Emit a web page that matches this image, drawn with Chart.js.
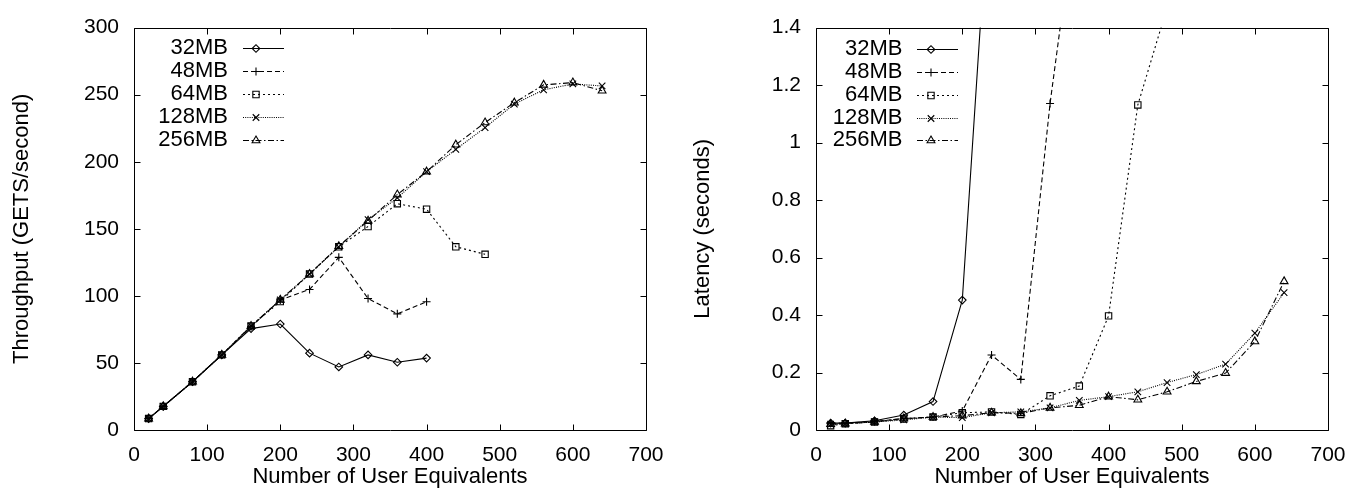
<!DOCTYPE html>
<html><head><meta charset="utf-8">
<script src="https://cdn.jsdelivr.net/npm/chart.js@4.4.0/dist/chart.umd.min.js"></script>
<style>
html,body{margin:0;padding:0;background:#fff;overflow:hidden}
#wrap{position:relative;width:1363px;height:493px;background:#fff}
#c1{position:absolute;left:0;top:0;width:681px;height:493px}
#c2{position:absolute;left:681px;top:0;width:682px;height:493px}
</style></head>
<body><div id="wrap"><canvas id="c1" width="681" height="493"></canvas><canvas id="c2" width="682" height="493"></canvas></div>
<script>
// ---- data ----
const users = [20, 40, 80, 120, 160, 200, 240, 280, 320, 360, 400, 440, 480, 520, 560, 600, 640];
const seriesNames = ['32MB', '48MB', '64MB', '128MB', '256MB'];

const thr32  = [8.5, 17.6, 36, 56, 75.6, 79, 57.3, 47, 56, 50.5, 53.6];
const thr48  = [8.5, 17.6, 36, 56, 77, 97, 104.8, 128.7, 98, 86.6, 95.6];
const thr64  = [8.5, 17.6, 36, 56, 77.5, 95.8, 116.3, 136.6, 151.7, 168.7, 164.6, 136.6, 131];
const thr128 = [8.5, 17.6, 36, 56, 77.5, 97, 116.3, 136.6, 156.8, 173, 192.6, 209.2, 225.5, 243, 253.6, 258, 256.5];
const thr256 = [8.5, 17.6, 36, 56, 77.5, 97, 116.3, 137, 156, 175.5, 192.6, 212.7, 229.2, 244, 257.3, 259, 252.9];

const lat32  = [0.024, 0.024, 0.032, 0.052, 0.099, 0.452, 2.0];
const lat48  = [0.024, 0.024, 0.030, 0.040, 0.045, 0.066, 0.261, 0.176, 1.136, 1.9];
const lat64  = [0.015, 0.022, 0.028, 0.038, 0.045, 0.060, 0.063, 0.054, 0.119, 0.153, 0.397, 1.131, 1.47];
const lat128 = [0.020, 0.022, 0.028, 0.035, 0.045, 0.043, 0.060, 0.063, 0.077, 0.103, 0.116, 0.133, 0.165, 0.193, 0.229, 0.337, 0.478];
const lat256 = [0.020, 0.022, 0.028, 0.040, 0.045, 0.050, 0.060, 0.058, 0.077, 0.086, 0.116, 0.105, 0.133, 0.169, 0.198, 0.308, 0.517];

const xTicks = [0, 100, 200, 300, 400, 500, 600, 700];
const thrTicks = [0, 50, 100, 150, 200, 250, 300];
const latTicks = [0, 0.2, 0.4, 0.6, 0.8, 1, 1.2, 1.4];

// ---- styles ----
const FONT = "'Liberation Sans', Arial, Helvetica, sans-serif";
const styles = [
  {dash: [], point: 'rectRot', r: 3.8},
  {dash: [5, 3], point: 'cross', r: 4},
  {dash: [2, 3], point: 'rect', r: 4.5},
  {dash: [1, 1.2], point: 'crossRot', r: 4.6},
  {dash: [6, 2.5, 1.5, 2.5], point: 'triangle', r: 4.5}
];

function toPts(arr) {
  const out = [];
  arr.forEach((v, i) => { if (v !== null && v !== undefined) out.push({x: users[i], y: v}); });
  return out;
}
function makeDatasets(arrs) {
  return arrs.map((a, i) => ({
    label: seriesNames[i],
    data: toPts(a),
    borderColor: '#000',
    borderWidth: 1.1,
    borderDash: styles[i].dash,
    pointStyle: styles[i].point,
    pointRadius: styles[i].r,
    pointBorderWidth: 1.1,
    pointBorderColor: '#000',
    pointBackgroundColor: 'rgba(0,0,0,0)',
    tension: 0,
    fill: false
  }));
}

const framePlugin = {
  id: 'gnuFrame',
  afterDatasetsDraw(chart) {
    const {ctx, chartArea: a, scales} = chart;
    const L = Math.round(a.left) + 0.5, R = Math.round(a.right) + 0.5;
    const T = Math.round(a.top) + 0.5, B = Math.round(a.bottom) + 0.5;
    ctx.save();
    ctx.strokeStyle = '#000';
    ctx.lineWidth = 1;
    ctx.setLineDash([]);
    ctx.beginPath();
    ctx.rect(L, T, R - L, B - T);
    const tl = 6;
    scales.x.ticks.forEach(t => {
      const px = Math.round(scales.x.getPixelForValue(t.value)) + 0.5;
      ctx.moveTo(px, B); ctx.lineTo(px, B - tl);
      ctx.moveTo(px, T); ctx.lineTo(px, T + tl);
    });
    scales.y.ticks.forEach(t => {
      const py = Math.round(scales.y.getPixelForValue(t.value)) + 0.5;
      ctx.moveTo(L, py); ctx.lineTo(L + tl, py);
      ctx.moveTo(R, py); ctx.lineTo(R - tl, py);
    });
    ctx.stroke();
    ctx.restore();
  },
  afterDraw(chart) {
    const opt = chart.options.plugins.gnuFrame;
    if (!opt) return;
    const ctx = chart.ctx;
    ctx.save();
    chart.data.datasets.forEach((ds, i) => {
      const y = opt.rows[i];
      ctx.fillStyle = '#000';
      ctx.font = '22px ' + FONT;
      ctx.textAlign = 'right';
      ctx.textBaseline = 'middle';
      ctx.fillText(ds.label, opt.textRight, y);
      ctx.strokeStyle = '#000';
      ctx.lineWidth = 1.1;
      ctx.setLineDash(ds.borderDash || []);
      ctx.beginPath();
      ctx.moveTo(opt.lineStart, Math.round(y) + 0.5);
      ctx.lineTo(opt.lineEnd, Math.round(y) + 0.5);
      ctx.stroke();
      ctx.setLineDash([]);
      ctx.fillStyle = 'rgba(0,0,0,0)';
      Chart.helpers.drawPoint(ctx, {pointStyle: ds.pointStyle, radius: ds.pointRadius, borderWidth: 1.1, rotation: 0}, opt.marker, Math.round(y) + 0.5);
    });
    ctx.restore();
  }
};

function makeChart(id, arrs, yMax, yTitle, yWidth, legend) {
  return new Chart(document.getElementById(id), {
    type: 'line',
    data: {datasets: makeDatasets(arrs)},
    plugins: [framePlugin],
    options: {
      responsive: false,
      animation: false,
      devicePixelRatio: 1,
      layout: {padding: {top: 20, right: 35, left: 0, bottom: 0}},
      plugins: {legend: {display: false}, tooltip: {enabled: false}, gnuFrame: legend},
      scales: {
        x: {
          type: 'linear', min: xTicks[0], max: xTicks[xTicks.length - 1],
          afterBuildTicks: s => { s.ticks = xTicks.map(v => ({value: v})); },
          afterFit: s => { s.height = 63; },
          grid: {display: false, drawTicks: false},
          border: {display: false},
          ticks: {color: '#000', font: {family: FONT, size: 21}, padding: 13, maxRotation: 0, autoSkip: false},
          title: {display: true, text: 'Number of User Equivalents', color: '#000', font: {family: FONT, size: 22}, padding: {top: 0, bottom: 3}}
        },
        y: {
          type: 'linear', min: 0, max: yMax,
          afterBuildTicks: s => { s.ticks = (yMax > 10 ? thrTicks : latTicks).map(v => ({value: v})); },
          afterFit: s => { s.width = yWidth; },
          grid: {display: false, drawTicks: false},
          border: {display: false},
          ticks: {color: '#000', font: {family: FONT, size: 21}, padding: 15, autoSkip: false,
                  callback: v => String(Math.round(v * 100) / 100)},
          title: {display: true, text: yTitle, color: '#000', font: {family: FONT, size: 22}, padding: {top: 9, bottom: 0}}
        }
      }
    }
  });
}

makeChart('c1', [thr32, thr48, thr64, thr128, thr256], 300, 'Throughput (GETS/second)', 134,
  {rows: [47.5, 70.5, 93.5, 116.5, 139.5], textRight: 228, lineStart: 243, lineEnd: 284, marker: 256});
makeChart('c2', [lat32, lat48, lat64, lat128, lat256], 1.4, 'Latency (seconds)', 135,
  {rows: [49, 72, 95, 118, 140], textRight: 221.5, lineStart: 236, lineEnd: 277, marker: 250});
</script>
</body></html>
